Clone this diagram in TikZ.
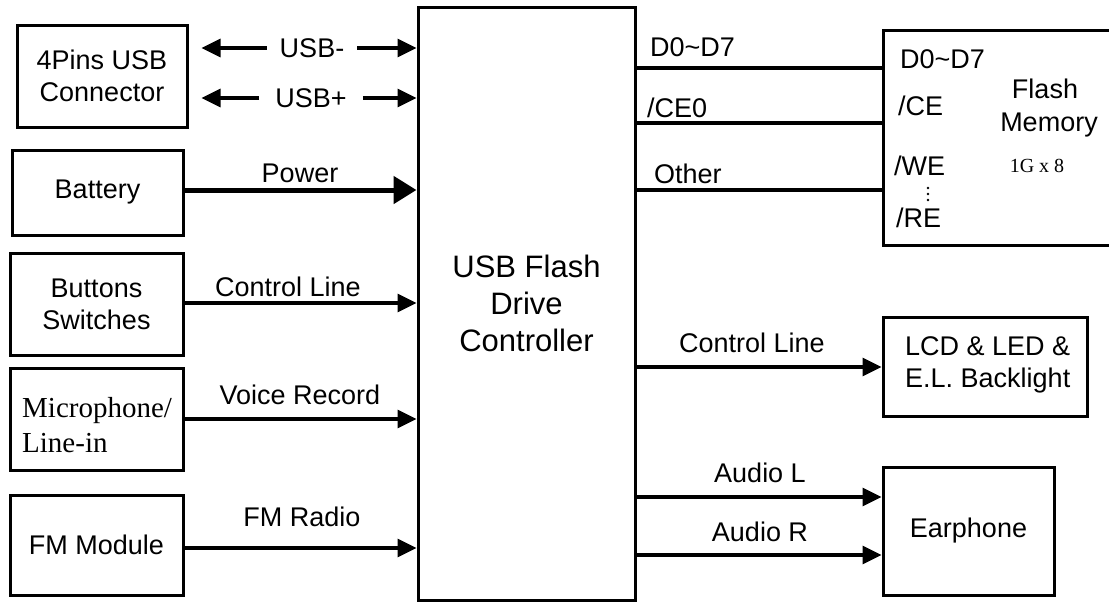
\documentclass[tikz,border=0pt]{standalone}
\usepackage{fontspec}
\setmainfont{Liberation Sans}
\newfontfamily\timesf{Liberation Serif}
\usetikzlibrary{arrows.meta,calc}
\begin{document}
\begin{tikzpicture}[x=1pt,y=-1pt,
  box/.style={draw, line width=3pt, inner sep=0pt, align=center, font=\fontsize{27}{32}\selectfont},
  lbl/.style={inner sep=0pt, font=\fontsize{27}{32}\selectfont},
  conn/.style={line width=3.2pt},
  arr/.style={line width=3.2pt, -{Triangle[length=19pt,width=18pt]}},
  bigarr/.style={line width=5pt, -{Triangle[length=23pt,width=27pt]}},
  dot/.style={fill=black}]
\useasboundingbox (0,0) rectangle (1109,603);
% left boxes
\node[box, minimum width=170, minimum height=102] (usb) at (102,76) {4Pins USB\\Connector};
\node[box, minimum width=171, minimum height=85] (bat) at (97.5,192.5) {Battery};
\node[box, minimum width=173, minimum height=102] (btn) at (96.5,304) {Buttons\\Switches};
\node[box, minimum width=173, minimum height=102] (mic) at (96.5,419) {};
\node[anchor=west, align=left, inner sep=0pt, font=\timesf\fontsize{29}{35}\selectfont] (mict) at (22,425) {Microphone/\\Line-in};
\node[box, minimum width=173, minimum height=100] (fm) at (96.5,545) {FM Module};
% controller
\node[box, minimum width=217, minimum height=593, font=\fontsize{31}{37}\selectfont] (ctrl) at (526.5,303.5) {USB Flash\\Drive\\Controller};
% right boxes
\node[box, minimum width=237, minimum height=215] (flash) at (1001.5,137.5) {};
\node[box, minimum width=204, minimum height=99] (lcd) at (985,366.5) {};
\node[lbl, anchor=west, align=left] (lcdt) at (905,365) {LCD \& LED \&\\E.L. Backlight};
\node[box, minimum width=171, minimum height=128] (ear) at (968.5,531) {Earphone};
% flash inner text
\node[lbl, anchor=west] (fd) at (900,59) {D0\textasciitilde D7};
\node[lbl, anchor=west] (fce) at (898,106) {/CE};
\node[lbl, anchor=west] (fwe) at (894,166) {/WE};
\node[lbl, anchor=west] (fre) at (896,218) {/RE};
\fill[dot] (928,188) circle (1.4);
\fill[dot] (928,194) circle (1.4);
\fill[dot] (928,200) circle (1.4);
\node[lbl] (fl1) at (1045,89) {Flash};
\node[lbl] (fl2) at (1049,125) {Memory};
\node[inner sep=0pt, font=\timesf\fontsize{20}{24}\selectfont] (fl3) at (1037,166) {1G x 8};
% USB arrows
\node[lbl, inner xsep=13pt] (usbm) at (312,48) {USB-};
\node[lbl, inner xsep=16pt] (usbp) at (311,98) {USB+};
\draw[arr, shorten >=13pt] (usbm.west) -- (usb.east |- usbm);
\draw[arr] (usbm.east) -- (ctrl.west |- usbm);
\draw[arr, shorten >=13pt] (usbp.west) -- (usb.east |- usbp);
\draw[arr] (usbp.east) -- (ctrl.west |- usbp);
% left connectors
\draw[bigarr] (bat.east |- 0,190) -- (ctrl.west |- 0,190);
\node[lbl] (lpow) at (300,173) {Power};
\draw[arr] (btn.east |- 0,303) -- (ctrl.west |- 0,303);
\node[lbl] (lctl) at (288,287) {Control Line};
\draw[arr] (mic.east |- 0,419) -- (ctrl.west |- 0,419);
\node[lbl] (lvoi) at (300,395) {Voice Record};
\draw[arr] (fm.east |- 0,548) -- (ctrl.west |- 0,548);
\node[lbl] (lfm) at (302,517) {FM Radio};
% right connectors
\draw[conn] (ctrl.east |- 0,68) -- (flash.west |- 0,68);
\node[lbl, anchor=west] (ld) at (650,47) {D0\textasciitilde D7};
\draw[conn] (ctrl.east |- 0,123) -- (flash.west |- 0,123);
\node[lbl, anchor=west] (lce) at (647,108) {/CE0};
\draw[conn] (ctrl.east |- 0,190) -- (flash.west |- 0,190);
\node[lbl, anchor=west] (loth) at (654,174) {Other};
\draw[arr] (ctrl.east |- 0,367) -- (lcd.west |- 0,367);
\node[lbl] (lctr) at (752,343) {Control Line};
\draw[arr] (ctrl.east |- 0,497) -- (ear.west |- 0,497);
\node[lbl] (lal) at (760,473) {Audio L};
\draw[arr] (ctrl.east |- 0,555) -- (ear.west |- 0,555);
\node[lbl] (lar) at (760,532) {Audio R};
\end{tikzpicture}
\end{document}
